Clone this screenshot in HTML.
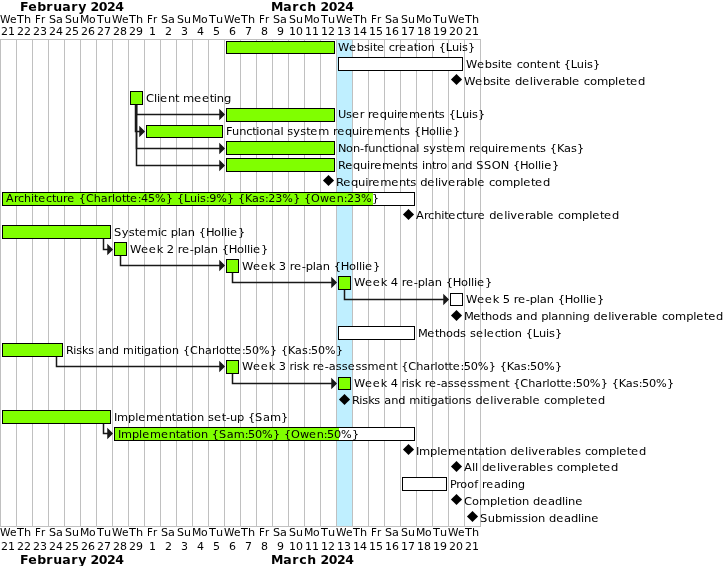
<!DOCTYPE html>
<html><head><meta charset="utf-8"><title>Gantt</title>
<style>html,body{margin:0;padding:0;background:#fff}body{width:724px;height:566px;overflow:hidden}text{fill:#000}</style>
</head><body>
<svg width="724" height="566" viewBox="0 0 724 566" style="display:block;font-family:'DejaVu Sans','Liberation Sans',sans-serif">
<rect width="724" height="566" fill="#fff"/>
<rect x="337" y="40" width="15" height="486" fill="#BFEFFF"/>
<rect x="0" y="39" width="1" height="487" fill="#C0C0C0"/>
<rect x="16" y="39" width="1" height="487" fill="#C0C0C0"/>
<rect x="32" y="39" width="1" height="487" fill="#C0C0C0"/>
<rect x="48" y="39" width="1" height="487" fill="#C0C0C0"/>
<rect x="64" y="39" width="1" height="487" fill="#C0C0C0"/>
<rect x="80" y="39" width="1" height="487" fill="#C0C0C0"/>
<rect x="96" y="39" width="1" height="487" fill="#C0C0C0"/>
<rect x="112" y="39" width="1" height="487" fill="#C0C0C0"/>
<rect x="128" y="39" width="1" height="487" fill="#C0C0C0"/>
<rect x="144" y="39" width="1" height="487" fill="#C0C0C0"/>
<rect x="160" y="39" width="1" height="487" fill="#C0C0C0"/>
<rect x="176" y="39" width="1" height="487" fill="#C0C0C0"/>
<rect x="192" y="39" width="1" height="487" fill="#C0C0C0"/>
<rect x="208" y="39" width="1" height="487" fill="#C0C0C0"/>
<rect x="224" y="39" width="1" height="487" fill="#C0C0C0"/>
<rect x="240" y="39" width="1" height="487" fill="#C0C0C0"/>
<rect x="256" y="39" width="1" height="487" fill="#C0C0C0"/>
<rect x="272" y="39" width="1" height="487" fill="#C0C0C0"/>
<rect x="288" y="39" width="1" height="487" fill="#C0C0C0"/>
<rect x="304" y="39" width="1" height="487" fill="#C0C0C0"/>
<rect x="320" y="39" width="1" height="487" fill="#C0C0C0"/>
<rect x="336" y="39" width="1" height="487" fill="#C0C0C0"/>
<rect x="352" y="39" width="1" height="487" fill="#C0C0C0"/>
<rect x="368" y="39" width="1" height="487" fill="#C0C0C0"/>
<rect x="384" y="39" width="1" height="487" fill="#C0C0C0"/>
<rect x="400" y="39" width="1" height="487" fill="#C0C0C0"/>
<rect x="416" y="39" width="1" height="487" fill="#C0C0C0"/>
<rect x="432" y="39" width="1" height="487" fill="#C0C0C0"/>
<rect x="448" y="39" width="1" height="487" fill="#C0C0C0"/>
<rect x="464" y="39" width="1" height="487" fill="#C0C0C0"/>
<rect x="480" y="39" width="1" height="487" fill="#C0C0C0"/>
<rect x="0" y="39" width="481" height="1" fill="#C0C0C0"/>
<rect x="0" y="526" width="481" height="1" fill="#C0C0C0"/>
<text transform="translate(0 22.6) scale(1.0594 1)" x="0 9.53" y="0" font-size="10">We</text>
<text transform="translate(1 34.9) scale(1.1007 1)" x="0 6.36" y="0" font-size="10">21</text>
<text transform="translate(17 22.6) scale(1.1242 1)" x="0 6.2" y="0" font-size="10">Th</text>
<text transform="translate(17 34.9) scale(1.1007 1)" x="0 6.36" y="0" font-size="10">22</text>
<text transform="translate(35 22.6) scale(1.0143 1)" x="0 5.88" y="0" font-size="10">Fr</text>
<text transform="translate(33 34.9) scale(1.1007 1)" x="0 6.36" y="0" font-size="10">23</text>
<text transform="translate(49 22.6) scale(1.1228 1)" x="0 6.26" y="0" font-size="10">Sa</text>
<text transform="translate(49 34.9) scale(1.1007 1)" x="0 6.36" y="0" font-size="10">24</text>
<text transform="translate(65 22.6) scale(1.1034 1)" x="0 6.34" y="0" font-size="10">Su</text>
<text transform="translate(65 34.9) scale(1.1007 1)" x="0 6.36" y="0" font-size="10">25</text>
<text transform="translate(80 22.6) scale(1.0847 1)" x="0 8.36" y="0" font-size="10">Mo</text>
<text transform="translate(81 34.9) scale(1.1007 1)" x="0 6.36" y="0" font-size="10">26</text>
<text transform="translate(97 22.6) scale(1.1242 1)" x="0 6.2" y="0" font-size="10">Tu</text>
<text transform="translate(97 34.9) scale(1.1007 1)" x="0 6.36" y="0" font-size="10">27</text>
<text transform="translate(112 22.6) scale(1.0594 1)" x="0 9.53" y="0" font-size="10">We</text>
<text transform="translate(113 34.9) scale(1.1007 1)" x="0 6.36" y="0" font-size="10">28</text>
<text transform="translate(129 22.6) scale(1.1242 1)" x="0 6.2" y="0" font-size="10">Th</text>
<text transform="translate(129 34.9) scale(1.1007 1)" x="0 6.36" y="0" font-size="10">29</text>
<text transform="translate(147 22.6) scale(1.0143 1)" x="0 5.88" y="0" font-size="10">Fr</text>
<text transform="translate(149 34.9) scale(1.1007 1)" x="0" y="0" font-size="10">1</text>
<text transform="translate(161 22.6) scale(1.1228 1)" x="0 6.26" y="0" font-size="10">Sa</text>
<text transform="translate(165 34.9) scale(1.1007 1)" x="0" y="0" font-size="10">2</text>
<text transform="translate(177 22.6) scale(1.1034 1)" x="0 6.34" y="0" font-size="10">Su</text>
<text transform="translate(181 34.9) scale(1.1007 1)" x="0" y="0" font-size="10">3</text>
<text transform="translate(192 22.6) scale(1.0847 1)" x="0 8.36" y="0" font-size="10">Mo</text>
<text transform="translate(197 34.9) scale(1.1007 1)" x="0" y="0" font-size="10">4</text>
<text transform="translate(209 22.6) scale(1.1242 1)" x="0 6.2" y="0" font-size="10">Tu</text>
<text transform="translate(213 34.9) scale(1.1007 1)" x="0" y="0" font-size="10">5</text>
<text transform="translate(224 22.6) scale(1.0594 1)" x="0 9.53" y="0" font-size="10">We</text>
<text transform="translate(229 34.9) scale(1.1007 1)" x="0" y="0" font-size="10">6</text>
<text transform="translate(241 22.6) scale(1.1242 1)" x="0 6.2" y="0" font-size="10">Th</text>
<text transform="translate(245 34.9) scale(1.1007 1)" x="0" y="0" font-size="10">7</text>
<text transform="translate(259 22.6) scale(1.0143 1)" x="0 5.88" y="0" font-size="10">Fr</text>
<text transform="translate(261 34.9) scale(1.1007 1)" x="0" y="0" font-size="10">8</text>
<text transform="translate(273 22.6) scale(1.1228 1)" x="0 6.26" y="0" font-size="10">Sa</text>
<text transform="translate(277 34.9) scale(1.1007 1)" x="0" y="0" font-size="10">9</text>
<text transform="translate(289 22.6) scale(1.1034 1)" x="0 6.34" y="0" font-size="10">Su</text>
<text transform="translate(289 34.9) scale(1.1007 1)" x="0 6.36" y="0" font-size="10">10</text>
<text transform="translate(304 22.6) scale(1.0847 1)" x="0 8.36" y="0" font-size="10">Mo</text>
<text transform="translate(305 34.9) scale(1.1007 1)" x="0 6.36" y="0" font-size="10">11</text>
<text transform="translate(321 22.6) scale(1.1242 1)" x="0 6.2" y="0" font-size="10">Tu</text>
<text transform="translate(321 34.9) scale(1.1007 1)" x="0 6.36" y="0" font-size="10">12</text>
<text transform="translate(336 22.6) scale(1.0594 1)" x="0 9.53" y="0" font-size="10">We</text>
<text transform="translate(337 34.9) scale(1.1007 1)" x="0 6.36" y="0" font-size="10">13</text>
<text transform="translate(353 22.6) scale(1.1242 1)" x="0 6.2" y="0" font-size="10">Th</text>
<text transform="translate(353 34.9) scale(1.1007 1)" x="0 6.36" y="0" font-size="10">14</text>
<text transform="translate(371 22.6) scale(1.0143 1)" x="0 5.88" y="0" font-size="10">Fr</text>
<text transform="translate(369 34.9) scale(1.1007 1)" x="0 6.36" y="0" font-size="10">15</text>
<text transform="translate(385 22.6) scale(1.1228 1)" x="0 6.26" y="0" font-size="10">Sa</text>
<text transform="translate(385 34.9) scale(1.1007 1)" x="0 6.36" y="0" font-size="10">16</text>
<text transform="translate(401 22.6) scale(1.1034 1)" x="0 6.34" y="0" font-size="10">Su</text>
<text transform="translate(401 34.9) scale(1.1007 1)" x="0 6.36" y="0" font-size="10">17</text>
<text transform="translate(416 22.6) scale(1.0847 1)" x="0 8.36" y="0" font-size="10">Mo</text>
<text transform="translate(417 34.9) scale(1.1007 1)" x="0 6.36" y="0" font-size="10">18</text>
<text transform="translate(433 22.6) scale(1.1242 1)" x="0 6.2" y="0" font-size="10">Tu</text>
<text transform="translate(433 34.9) scale(1.1007 1)" x="0 6.36" y="0" font-size="10">19</text>
<text transform="translate(448 22.6) scale(1.0594 1)" x="0 9.53" y="0" font-size="10">We</text>
<text transform="translate(449 34.9) scale(1.1007 1)" x="0 6.36" y="0" font-size="10">20</text>
<text transform="translate(465 22.6) scale(1.1242 1)" x="0 6.2" y="0" font-size="10">Th</text>
<text transform="translate(465 34.9) scale(1.1007 1)" x="0 6.36" y="0" font-size="10">21</text>
<text transform="translate(0 535.6) scale(1.0594 1)" x="0 9.53" y="0" font-size="10">We</text>
<text transform="translate(1 549.7) scale(1.1007 1)" x="0 6.36" y="0" font-size="10">21</text>
<text transform="translate(17 535.6) scale(1.1242 1)" x="0 6.2" y="0" font-size="10">Th</text>
<text transform="translate(17 549.7) scale(1.1007 1)" x="0 6.36" y="0" font-size="10">22</text>
<text transform="translate(35 535.6) scale(1.0143 1)" x="0 5.88" y="0" font-size="10">Fr</text>
<text transform="translate(33 549.7) scale(1.1007 1)" x="0 6.36" y="0" font-size="10">23</text>
<text transform="translate(49 535.6) scale(1.1228 1)" x="0 6.26" y="0" font-size="10">Sa</text>
<text transform="translate(49 549.7) scale(1.1007 1)" x="0 6.36" y="0" font-size="10">24</text>
<text transform="translate(65 535.6) scale(1.1034 1)" x="0 6.34" y="0" font-size="10">Su</text>
<text transform="translate(65 549.7) scale(1.1007 1)" x="0 6.36" y="0" font-size="10">25</text>
<text transform="translate(80 535.6) scale(1.0847 1)" x="0 8.36" y="0" font-size="10">Mo</text>
<text transform="translate(81 549.7) scale(1.1007 1)" x="0 6.36" y="0" font-size="10">26</text>
<text transform="translate(97 535.6) scale(1.1242 1)" x="0 6.2" y="0" font-size="10">Tu</text>
<text transform="translate(97 549.7) scale(1.1007 1)" x="0 6.36" y="0" font-size="10">27</text>
<text transform="translate(112 535.6) scale(1.0594 1)" x="0 9.53" y="0" font-size="10">We</text>
<text transform="translate(113 549.7) scale(1.1007 1)" x="0 6.36" y="0" font-size="10">28</text>
<text transform="translate(129 535.6) scale(1.1242 1)" x="0 6.2" y="0" font-size="10">Th</text>
<text transform="translate(129 549.7) scale(1.1007 1)" x="0 6.36" y="0" font-size="10">29</text>
<text transform="translate(147 535.6) scale(1.0143 1)" x="0 5.88" y="0" font-size="10">Fr</text>
<text transform="translate(149 549.7) scale(1.1007 1)" x="0" y="0" font-size="10">1</text>
<text transform="translate(161 535.6) scale(1.1228 1)" x="0 6.26" y="0" font-size="10">Sa</text>
<text transform="translate(165 549.7) scale(1.1007 1)" x="0" y="0" font-size="10">2</text>
<text transform="translate(177 535.6) scale(1.1034 1)" x="0 6.34" y="0" font-size="10">Su</text>
<text transform="translate(181 549.7) scale(1.1007 1)" x="0" y="0" font-size="10">3</text>
<text transform="translate(192 535.6) scale(1.0847 1)" x="0 8.36" y="0" font-size="10">Mo</text>
<text transform="translate(197 549.7) scale(1.1007 1)" x="0" y="0" font-size="10">4</text>
<text transform="translate(209 535.6) scale(1.1242 1)" x="0 6.2" y="0" font-size="10">Tu</text>
<text transform="translate(213 549.7) scale(1.1007 1)" x="0" y="0" font-size="10">5</text>
<text transform="translate(224 535.6) scale(1.0594 1)" x="0 9.53" y="0" font-size="10">We</text>
<text transform="translate(229 549.7) scale(1.1007 1)" x="0" y="0" font-size="10">6</text>
<text transform="translate(241 535.6) scale(1.1242 1)" x="0 6.2" y="0" font-size="10">Th</text>
<text transform="translate(245 549.7) scale(1.1007 1)" x="0" y="0" font-size="10">7</text>
<text transform="translate(259 535.6) scale(1.0143 1)" x="0 5.88" y="0" font-size="10">Fr</text>
<text transform="translate(261 549.7) scale(1.1007 1)" x="0" y="0" font-size="10">8</text>
<text transform="translate(273 535.6) scale(1.1228 1)" x="0 6.26" y="0" font-size="10">Sa</text>
<text transform="translate(277 549.7) scale(1.1007 1)" x="0" y="0" font-size="10">9</text>
<text transform="translate(289 535.6) scale(1.1034 1)" x="0 6.34" y="0" font-size="10">Su</text>
<text transform="translate(289 549.7) scale(1.1007 1)" x="0 6.36" y="0" font-size="10">10</text>
<text transform="translate(304 535.6) scale(1.0847 1)" x="0 8.36" y="0" font-size="10">Mo</text>
<text transform="translate(305 549.7) scale(1.1007 1)" x="0 6.36" y="0" font-size="10">11</text>
<text transform="translate(321 535.6) scale(1.1242 1)" x="0 6.2" y="0" font-size="10">Tu</text>
<text transform="translate(321 549.7) scale(1.1007 1)" x="0 6.36" y="0" font-size="10">12</text>
<text transform="translate(336 535.6) scale(1.0594 1)" x="0 9.53" y="0" font-size="10">We</text>
<text transform="translate(337 549.7) scale(1.1007 1)" x="0 6.36" y="0" font-size="10">13</text>
<text transform="translate(353 535.6) scale(1.1242 1)" x="0 6.2" y="0" font-size="10">Th</text>
<text transform="translate(353 549.7) scale(1.1007 1)" x="0 6.36" y="0" font-size="10">14</text>
<text transform="translate(371 535.6) scale(1.0143 1)" x="0 5.88" y="0" font-size="10">Fr</text>
<text transform="translate(369 549.7) scale(1.1007 1)" x="0 6.36" y="0" font-size="10">15</text>
<text transform="translate(385 535.6) scale(1.1228 1)" x="0 6.26" y="0" font-size="10">Sa</text>
<text transform="translate(385 549.7) scale(1.1007 1)" x="0 6.36" y="0" font-size="10">16</text>
<text transform="translate(401 535.6) scale(1.1034 1)" x="0 6.34" y="0" font-size="10">Su</text>
<text transform="translate(401 549.7) scale(1.1007 1)" x="0 6.36" y="0" font-size="10">17</text>
<text transform="translate(416 535.6) scale(1.0847 1)" x="0 8.36" y="0" font-size="10">Mo</text>
<text transform="translate(417 549.7) scale(1.1007 1)" x="0 6.36" y="0" font-size="10">18</text>
<text transform="translate(433 535.6) scale(1.1242 1)" x="0 6.2" y="0" font-size="10">Tu</text>
<text transform="translate(433 549.7) scale(1.1007 1)" x="0 6.36" y="0" font-size="10">19</text>
<text transform="translate(448 535.6) scale(1.0594 1)" x="0 9.53" y="0" font-size="10">We</text>
<text transform="translate(449 549.7) scale(1.1007 1)" x="0 6.36" y="0" font-size="10">20</text>
<text transform="translate(465 535.6) scale(1.1242 1)" x="0 6.2" y="0" font-size="10">Th</text>
<text transform="translate(465 549.7) scale(1.1007 1)" x="0 6.36" y="0" font-size="10">21</text>
<text transform="translate(20 10.6) scale(1.0476 1)" x="0 7.84 16.44 25.13 31.74 40.43 49.02 55.63 63.39 67.33 75.19 83.06 90.93" y="0" font-size="12" font-weight="bold">February 2024</text>
<text transform="translate(271 10.6) scale(1.0422 1)" x="0 11.77 20.42 27.08 34.76 43.5 47.46 55.39 63.31 71.23" y="0" font-size="12" font-weight="bold">March 2024</text>
<text transform="translate(20 563.6) scale(1.0476 1)" x="0 7.84 16.44 25.13 31.74 40.43 49.02 55.63 63.39 67.33 75.19 83.06 90.93" y="0" font-size="12" font-weight="bold">February 2024</text>
<text transform="translate(271 563.6) scale(1.0422 1)" x="0 11.77 20.42 27.08 34.76 43.5 47.46 55.39 63.31 71.23" y="0" font-size="12" font-weight="bold">March 2024</text>
<path d="M136.5 104.5V114.5H220" fill="none" stroke="#181818" stroke-width="1.5"/>
<path d="M220 110.5L224 114.5L220 118.5Z" fill="#181818" stroke="#181818" stroke-width="1.5"/>
<path d="M135.5 104.5V132.25M134.75 131.5H140" fill="none" stroke="#181818" stroke-width="1.5"/>
<path d="M140 127.5L144 131.5L140 135.5Z" fill="#181818" stroke="#181818" stroke-width="1.5"/>
<path d="M136.5 104.5V148.5H220" fill="none" stroke="#181818" stroke-width="1.5"/>
<path d="M220 144.5L224 148.5L220 152.5Z" fill="#181818" stroke="#181818" stroke-width="1.5"/>
<path d="M136.5 104.5V165.5H220" fill="none" stroke="#181818" stroke-width="1.5"/>
<path d="M220 161.5L224 165.5L220 169.5Z" fill="#181818" stroke="#181818" stroke-width="1.5"/>
<path d="M103.5 238.5V250.25M102.75 249.5H108" fill="none" stroke="#181818" stroke-width="1.5"/>
<path d="M108 245.5L112 249.5L108 253.5Z" fill="#181818" stroke="#181818" stroke-width="1.5"/>
<path d="M120.5 255.5V265.5H220" fill="none" stroke="#181818" stroke-width="1.5"/>
<path d="M220 261.5L224 265.5L220 269.5Z" fill="#181818" stroke="#181818" stroke-width="1.5"/>
<path d="M232.5 272.5V282.5H332" fill="none" stroke="#181818" stroke-width="1.5"/>
<path d="M332 278.5L336 282.5L332 286.5Z" fill="#181818" stroke="#181818" stroke-width="1.5"/>
<path d="M344.5 289.5V299.5H444" fill="none" stroke="#181818" stroke-width="1.5"/>
<path d="M444 295.5L448 299.5L444 303.5Z" fill="#181818" stroke="#181818" stroke-width="1.5"/>
<path d="M56.5 356.5V366.5H220" fill="none" stroke="#181818" stroke-width="1.5"/>
<path d="M220 362.5L224 366.5L220 370.5Z" fill="#181818" stroke="#181818" stroke-width="1.5"/>
<path d="M232.5 373.5V383.5H332" fill="none" stroke="#181818" stroke-width="1.5"/>
<path d="M332 379.5L336 383.5L332 387.5Z" fill="#181818" stroke="#181818" stroke-width="1.5"/>
<path d="M103.5 423.5V434.25M102.75 433.5H108" fill="none" stroke="#181818" stroke-width="1.5"/>
<path d="M108 429.5L112 433.5L108 437.5Z" fill="#181818" stroke="#181818" stroke-width="1.5"/>
<rect x="226.5" y="41.5" width="108" height="12" fill="#80FF00" stroke="#000"/>
<text transform="translate(338 51) scale(1.0337 1)" x="0 10.69 18.23 25.05 30.84 33.77 37.73 45.27 49.07 54.92 58.92 66.47 73.23 77.19 80.12 86.89 93.7 97.49 104.31 110.18 116.99 119.92 125.71" y="0" font-size="11">Website creation {Luis}</text>
<rect x="338.5" y="57.5" width="124" height="13" fill="#fff" stroke="#000"/>
<text transform="translate(466 68) scale(1.0347 1)" x="0 10.68 18.22 25.03 30.81 33.74 37.7 45.24 49.03 54.88 61.64 68.44 72.4 79.94 86.74 90.7 94.49 101.3 107.16 113.97 116.9 122.69" y="0" font-size="11">Website content {Luis}</text>
<path d="M456.5 73.9L462.05 79.45L456.5 85L450.95 79.45Z" fill="#000"/>
<text transform="translate(464 85) scale(1.0579 1)" x="0 10.49 17.9 24.59 30.27 33.15 37.04 44.44 48.17 54.86 62.26 65.14 68.02 74.62 82.02 85.95 92.59 99.28 102.16 109.56 113.29 119.04 125.68 136.14 142.83 145.71 153.11 157 164.4" y="0" font-size="11">Website deliverable completed</text>
<rect x="130.5" y="91.5" width="12" height="13" fill="#80FF00" stroke="#000"/>
<text transform="translate(146 102) scale(1.0502 1)" x="0 7.63 10.53 13.43 20.87 27.6 31.51 35.26 45.78 53.23 60.67 64.58 67.48 74.21" y="0" font-size="11">Client meeting</text>
<rect x="226.5" y="108.5" width="108" height="13" fill="#80FF00" stroke="#000"/>
<text transform="translate(338 118) scale(1.0350 1)" x="0 7.79 13.58 21.11 25.11 28.9 32.9 40.43 47.24 54.05 56.98 60.97 68.51 79.15 86.69 93.5 97.45 103.23 107.03 113.84 119.7 126.5 129.44 135.22" y="0" font-size="11">User requirements {Luis}</text>
<rect x="146.5" y="125.5" width="76" height="12" fill="#80FF00" stroke="#000"/>
<text transform="translate(226 135) scale(1.0331 1)" x="0 5.91 12.73 19.54 25.4 29.36 32.29 39.06 45.87 52.64 55.58 59.37 65.17 71.89 77.68 81.64 89.19 99.85 103.65 107.65 115.2 122.02 128.83 131.77 135.77 143.31 153.98 161.52 168.34 172.3 178.09 181.89 188.71 196.56 203.32 206.26 209.2 212.13 219.68" y="0" font-size="11">Functional system requirements {Hollie}</text>
<rect x="226.5" y="141.5" width="108" height="13" fill="#80FF00" stroke="#000"/>
<text transform="translate(338 152) scale(1.0306 1)" x="0 7.86 14.64 21.46 25.36 29.24 36.07 42.9 48.76 52.73 55.67 62.45 69.28 76.06 79 82.81 88.61 95.35 101.15 105.12 112.68 123.36 127.17 131.18 138.74 145.57 152.4 155.34 159.35 166.91 177.59 185.15 191.98 195.95 201.75 205.56 212.39 219.27 226.05 231.85" y="0" font-size="11">Non-functional system requirements {Kas}</text>
<rect x="226.5" y="158.5" width="108" height="13" fill="#80FF00" stroke="#000"/>
<text transform="translate(338 169) scale(1.0361 1)" x="0 6.93 14.46 21.26 28.06 30.99 34.98 42.51 53.15 60.68 67.48 71.43 77.21 81 83.93 90.73 94.68 98.67 105.42 109.21 115.96 122.76 129.56 133.35 140.92 148.5 157.18 165 168.79 175.59 183.42 190.18 193.1 196.03 198.96 206.49" y="0" font-size="11">Requirements intro and SSON {Hollie}</text>
<path d="M328.5 174.9L334.05 180.45L328.5 186L322.95 180.45Z" fill="#000"/>
<text transform="translate(336 186) scale(1.0501 1)" x="0 6.86 14.31 21.04 27.77 30.66 34.61 42.06 52.59 60.03 66.76 70.67 76.39 80.14 86.87 94.31 97.21 100.11 106.75 114.19 118.15 124.83 131.56 134.45 141.9 145.65 151.43 158.11 168.63 175.36 178.26 185.71 189.62 197.07" y="0" font-size="11">Requirements deliverable completed</text>
<rect x="2.5" y="192.5" width="412" height="13" fill="#fff"/>
<rect x="2.5" y="192.5" width="370.5" height="13" fill="#80FF00"/>
<rect x="2.5" y="192.5" width="412" height="13" fill="none" stroke="#000"/>
<text transform="translate(6 202) scale(1.0150 1)" x="0 7.81 11.87 17.81 24.72 27.69 31.71 39.37 45.31 49.32 56.23 60.29 67.95 71.8 78.72 86.56 93.47 100.34 104.39 107.37 114.23 118.25 122.27 129.92 133.03 139.95 146.86 157.63 164.54 168.4 175.31 181.27 188.18 191.16 197.03 200.14 207.05 217.81 224.73 228.59 235.5 242.46 249.33 255.2 258.31 265.23 272.14 282.91 289.82 293.68 300.59 309.42 318.31 325.97 332.88 335.99 342.9 349.82 360.58" y="0" font-size="11">Architecture {Charlotte:45%} {Luis:9%} {Kas:23%} {Owen:23%}</text>
<path d="M408.5 208.9L414.05 214.45L408.5 220L402.95 214.45Z" fill="#000"/>
<text transform="translate(416 219) scale(1.0442 1)" x="0 7.64 11.6 17.41 24.17 27.08 31 38.49 44.29 48.22 54.98 58.94 66.43 70.19 76.95 84.43 87.34 90.25 96.92 104.4 108.37 115.08 121.84 124.75 132.23 136 141.8 148.51 159.08 165.84 168.76 176.24 180.16 187.65" y="0" font-size="11">Architecture deliverable completed</text>
<rect x="2.5" y="225.5" width="108" height="13" fill="#80FF00" stroke="#000"/>
<text transform="translate(114 236) scale(1.0410 1)" x="0 7.54 14.23 19.99 23.92 31.42 42.02 44.94 50.76 54.53 61.31 64.23 70.95 77.73 81.5 88.28 96.08 102.81 105.73 108.64 111.56 119.06" y="0" font-size="11">Systemic plan {Hollie}</text>
<rect x="114.5" y="242.5" width="12" height="13" fill="#80FF00" stroke="#000"/>
<text transform="translate(130 253) scale(1.0436 1)" x="0 10.61 18.09 25.58 31.45 35.22 41.99 45.75 49.72 57.21 61.07 67.83 70.74 77.46 84.21 87.98 94.75 102.53 109.25 112.16 115.07 117.98 125.47" y="0" font-size="11">Week 2 re-plan {Hollie}</text>
<rect x="226.5" y="259.5" width="12" height="13" fill="#80FF00" stroke="#000"/>
<text transform="translate(242 270) scale(1.0436 1)" x="0 10.61 18.09 25.58 31.45 35.22 41.99 45.75 49.72 57.21 61.07 67.83 70.74 77.46 84.21 87.98 94.75 102.53 109.25 112.16 115.07 117.98 125.47" y="0" font-size="11">Week 3 re-plan {Hollie}</text>
<rect x="338.5" y="276.5" width="12" height="13" fill="#80FF00" stroke="#000"/>
<text transform="translate(354 286) scale(1.0436 1)" x="0 10.61 18.09 25.58 31.45 35.22 41.99 45.75 49.72 57.21 61.07 67.83 70.74 77.46 84.21 87.98 94.75 102.53 109.25 112.16 115.07 117.98 125.47" y="0" font-size="11">Week 4 re-plan {Hollie}</text>
<rect x="450.5" y="293.5" width="12" height="12" fill="#fff" stroke="#000"/>
<text transform="translate(466 303) scale(1.0436 1)" x="0 10.61 18.09 25.58 31.45 35.22 41.99 45.75 49.72 57.21 61.07 67.83 70.74 77.46 84.21 87.98 94.75 102.53 109.25 112.16 115.07 117.98 125.47" y="0" font-size="11">Week 5 re-plan {Hollie}</text>
<path d="M456.5 309.9L462.05 315.45L456.5 321L450.95 315.45Z" fill="#000"/>
<text transform="translate(464 320) scale(1.0402 1)" x="0 8.82 16.32 20.26 27.04 33.77 40.55 46.31 50.09 56.82 63.6 70.38 74.16 80.94 83.86 90.59 97.36 104.14 107.06 113.84 120.62 124.4 131.18 138.68 141.6 144.52 151.21 158.72 162.7 169.43 176.21 179.13 186.63 190.41 196.23 202.96 213.57 220.35 223.27 230.77 234.71 242.22" y="0" font-size="11">Methods and planning deliverable completed</text>
<rect x="338.5" y="326.5" width="76" height="13" fill="#fff" stroke="#000"/>
<text transform="translate(418 337) scale(1.0335 1)" x="0 8.86 16.41 20.37 27.18 33.94 40.76 46.55 50.35 56.14 63.68 66.62 74.16 80.02 83.98 86.91 93.68 100.49 104.28 111.1 116.97 123.78 126.72 132.51" y="0" font-size="11">Methods selection {Luis}</text>
<rect x="2.5" y="343.5" width="60" height="13" fill="#80FF00" stroke="#000"/>
<text transform="translate(66 354) scale(1.0099 1)" x="0 7.07 10.06 15.96 21.99 27.89 31.76 38.65 45.59 52.53 56.4 67.26 70.25 74.28 77.27 84.21 91.1 95.13 98.12 105.01 111.95 115.82 122.76 130.64 137.58 144.47 148.54 151.53 158.42 162.45 166.48 174.17 177.29 184.24 191.18 201.99 208.93 212.8 219.74 226.73 233.63 239.52 242.64 249.59 256.53 267.34" y="0" font-size="11">Risks and mitigation {Charlotte:50%} {Kas:50%}</text>
<rect x="226.5" y="360.5" width="12" height="13" fill="#80FF00" stroke="#000"/>
<text transform="translate(242 370) scale(1.0305 1)" x="0 10.71 18.28 25.84 31.77 35.58 42.41 46.22 50.23 53.17 58.97 64.91 68.71 72.72 80.28 84.18 90.96 96.77 102.57 110.13 115.94 121.74 132.43 139.99 146.82 150.79 154.59 161.42 169.17 176 182.78 186.79 189.73 196.51 200.48 204.45 212.01 215.08 221.91 228.75 239.38 246.21 250.02 256.85 263.73 270.51 276.31 279.38 286.22 293.05 303.68" y="0" font-size="11">Week 3 risk re-assessment {Charlotte:50%} {Kas:50%}</text>
<rect x="338.5" y="377.5" width="12" height="12" fill="#80FF00" stroke="#000"/>
<text transform="translate(354 387) scale(1.0305 1)" x="0 10.71 18.28 25.84 31.77 35.58 42.41 46.22 50.23 53.17 58.97 64.91 68.71 72.72 80.28 84.18 90.96 96.77 102.57 110.13 115.94 121.74 132.43 139.99 146.82 150.79 154.59 161.42 169.17 176 182.78 186.79 189.73 196.51 200.48 204.45 212.01 215.08 221.91 228.75 239.38 246.21 250.02 256.85 263.73 270.51 276.31 279.38 286.22 293.05 303.68" y="0" font-size="11">Week 4 risk re-assessment {Charlotte:50%} {Kas:50%}</text>
<path d="M344.5 393.9L350.05 399.45L344.5 405L338.95 399.45Z" fill="#000"/>
<text transform="translate(352 404) scale(1.0347 1)" x="0 6.94 9.87 15.66 21.57 27.36 31.15 37.91 44.72 51.52 55.32 65.97 68.9 72.85 75.79 82.59 89.35 93.31 96.24 103 109.81 115.59 119.38 126.19 133.73 136.66 139.6 146.31 153.85 157.85 164.6 171.41 174.35 181.88 185.68 191.53 198.28 208.93 215.74 218.67 226.21 230.17 237.71" y="0" font-size="11">Risks and mitigations deliverable completed</text>
<rect x="2.5" y="410.5" width="108" height="13" fill="#80FF00" stroke="#000"/>
<text transform="translate(114 421) scale(1.0386 1)" x="0 2.96 13.58 20.37 23.29 30.8 41.42 48.94 55.72 59.67 66.4 70.35 73.27 80.01 86.8 90.58 96.34 103.86 107.8 111.68 118.46 125.25 129.03 135.83 143.38 150.12 160.74" y="0" font-size="11">Implementation set-up {Sam}</text>
<rect x="114.5" y="427.5" width="300" height="13" fill="#fff"/>
<rect x="114.5" y="427.5" width="224.5" height="13" fill="#80FF00"/>
<rect x="114.5" y="427.5" width="300" height="13" fill="none" stroke="#000"/>
<text transform="translate(118 438) scale(1.0277 1)" x="0 2.99 13.69 20.54 23.49 31.07 41.77 49.35 56.2 60.17 66.97 70.94 73.89 80.69 87.53 91.34 98.19 105.82 112.61 123.32 126.4 133.24 140.09 150.75 157.6 161.41 168.26 176.99 185.8 193.38 200.22 203.3 210.15 217 227.65" y="0" font-size="11">Implementation {Sam:50%} {Owen:50%}</text>
<path d="M408.5 443.9L414.05 449.45L408.5 455L402.95 449.45Z" fill="#000"/>
<text transform="translate(416 455) scale(1.0469 1)" x="0 2.94 13.49 20.24 23.14 30.61 41.16 48.62 55.37 59.29 65.98 69.9 72.81 79.5 86.24 90 96.75 104.21 107.12 110.02 116.67 124.14 128.1 134.8 141.54 144.45 151.91 157.64 161.4 167.19 173.89 184.44 191.19 194.09 201.56 205.48 212.94" y="0" font-size="11">Implementation deliverables completed</text>
<path d="M456.5 460.9L462.05 466.45L456.5 472L450.95 466.45Z" fill="#000"/>
<text transform="translate(464 471) scale(1.0549 1)" x="0 7.57 10.46 13.35 17.08 23.79 31.21 34.09 36.98 43.59 51.01 54.95 61.61 68.31 71.2 78.62 84.32 88.05 93.81 100.46 110.95 117.66 120.54 127.96 131.86 139.28" y="0" font-size="11">All deliverables completed</text>
<rect x="402.5" y="477.5" width="44" height="13" fill="#fff" stroke="#000"/>
<text transform="translate(450 488) scale(1.0133 1)" x="0 6.07 10.13 17 23.87 27.81 31.66 35.73 43.39 50.27 57.19 60.17 67.09" y="0" font-size="11">Proof reading</text>
<path d="M456.5 493.9L462.05 499.45L456.5 505L450.95 499.45Z" fill="#000"/>
<text transform="translate(464 505) scale(1.0451 1)" x="0 7.66 14.37 24.93 31.68 34.59 42.07 45.99 48.9 55.61 62.36 66.12 72.88 80.35 87.06 93.81 96.72 99.63 106.38" y="0" font-size="11">Completion deadline</text>
<path d="M472.5 510.9L478.05 516.45L472.5 522L466.95 516.45Z" fill="#000"/>
<text transform="translate(480 522) scale(1.0459 1)" x="0 7.52 14.26 21.02 31.57 34.48 40.22 45.95 48.86 55.56 62.31 66.07 72.82 80.29 86.99 93.75 96.65 99.56 106.31" y="0" font-size="11">Submission deadline</text>
</svg>
</body></html>
